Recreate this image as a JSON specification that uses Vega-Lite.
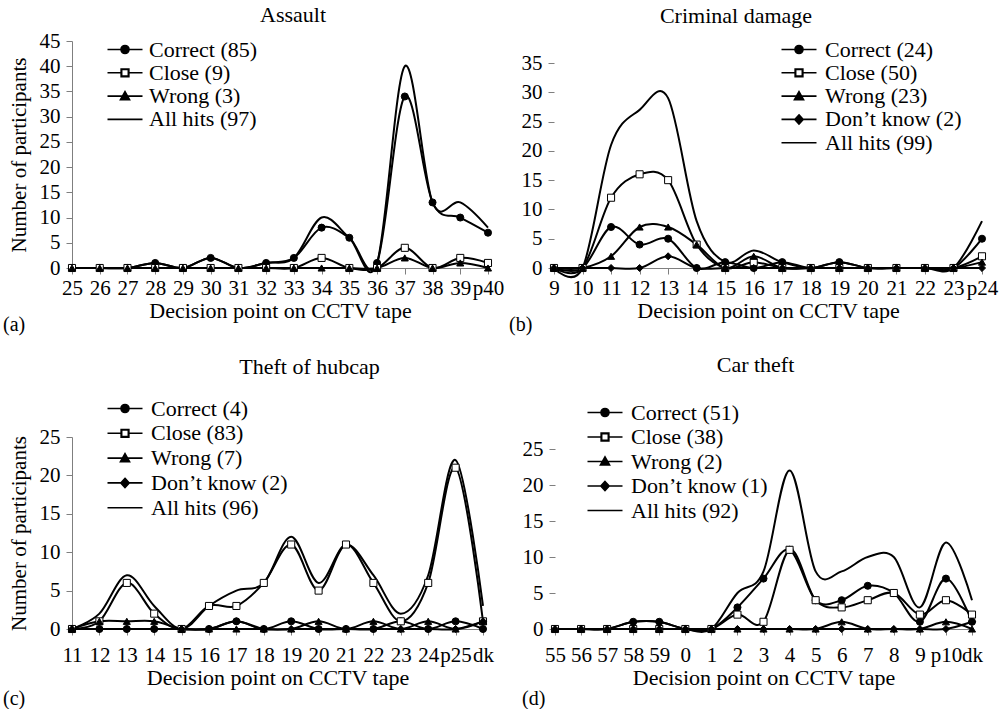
{
"$schema": "https://vega.github.io/schema/vega-lite/v6.json",
"padding": {"left": 3, "top": 4, "right": 0, "bottom": 0},
"background": "white",
"datasets": {
"assault": [
{"point":"25","series":"Correct (85)","count":0},{"point":"26","series":"Correct (85)","count":0},{"point":"27","series":"Correct (85)","count":0},{"point":"28","series":"Correct (85)","count":1},{"point":"29","series":"Correct (85)","count":0},{"point":"30","series":"Correct (85)","count":2},{"point":"31","series":"Correct (85)","count":0},{"point":"32","series":"Correct (85)","count":1},{"point":"33","series":"Correct (85)","count":2},{"point":"34","series":"Correct (85)","count":8},{"point":"35","series":"Correct (85)","count":6},{"point":"36","series":"Correct (85)","count":1},{"point":"37","series":"Correct (85)","count":34},{"point":"38","series":"Correct (85)","count":13},{"point":"39","series":"Correct (85)","count":10},{"point":"p40","series":"Correct (85)","count":7},
{"point":"25","series":"Close (9)","count":0},{"point":"26","series":"Close (9)","count":0},{"point":"27","series":"Close (9)","count":0},{"point":"28","series":"Close (9)","count":0},{"point":"29","series":"Close (9)","count":0},{"point":"30","series":"Close (9)","count":0},{"point":"31","series":"Close (9)","count":0},{"point":"32","series":"Close (9)","count":0},{"point":"33","series":"Close (9)","count":0},{"point":"34","series":"Close (9)","count":2},{"point":"35","series":"Close (9)","count":0},{"point":"36","series":"Close (9)","count":0},{"point":"37","series":"Close (9)","count":4},{"point":"38","series":"Close (9)","count":0},{"point":"39","series":"Close (9)","count":2},{"point":"p40","series":"Close (9)","count":1},
{"point":"25","series":"Wrong (3)","count":0},{"point":"26","series":"Wrong (3)","count":0},{"point":"27","series":"Wrong (3)","count":0},{"point":"28","series":"Wrong (3)","count":0},{"point":"29","series":"Wrong (3)","count":0},{"point":"30","series":"Wrong (3)","count":0},{"point":"31","series":"Wrong (3)","count":0},{"point":"32","series":"Wrong (3)","count":0},{"point":"33","series":"Wrong (3)","count":0},{"point":"34","series":"Wrong (3)","count":0},{"point":"35","series":"Wrong (3)","count":0},{"point":"36","series":"Wrong (3)","count":0},{"point":"37","series":"Wrong (3)","count":2},{"point":"38","series":"Wrong (3)","count":0},{"point":"39","series":"Wrong (3)","count":1},{"point":"p40","series":"Wrong (3)","count":0},
{"point":"25","series":"All hits (97)","count":0},{"point":"26","series":"All hits (97)","count":0},{"point":"27","series":"All hits (97)","count":0},{"point":"28","series":"All hits (97)","count":1},{"point":"29","series":"All hits (97)","count":0},{"point":"30","series":"All hits (97)","count":2},{"point":"31","series":"All hits (97)","count":0},{"point":"32","series":"All hits (97)","count":1},{"point":"33","series":"All hits (97)","count":2},{"point":"34","series":"All hits (97)","count":10},{"point":"35","series":"All hits (97)","count":6},{"point":"36","series":"All hits (97)","count":1},{"point":"37","series":"All hits (97)","count":40},{"point":"38","series":"All hits (97)","count":13},{"point":"39","series":"All hits (97)","count":13},{"point":"p40","series":"All hits (97)","count":8}
],
"damage": [
{"point":"9","series":"Correct (24)","count":0},{"point":"10","series":"Correct (24)","count":0},{"point":"11","series":"Correct (24)","count":7},{"point":"12","series":"Correct (24)","count":4},{"point":"13","series":"Correct (24)","count":5},{"point":"14","series":"Correct (24)","count":0},{"point":"15","series":"Correct (24)","count":1},{"point":"16","series":"Correct (24)","count":0},{"point":"17","series":"Correct (24)","count":1},{"point":"18","series":"Correct (24)","count":0},{"point":"19","series":"Correct (24)","count":1},{"point":"20","series":"Correct (24)","count":0},{"point":"21","series":"Correct (24)","count":0},{"point":"22","series":"Correct (24)","count":0},{"point":"23","series":"Correct (24)","count":0},{"point":"p24","series":"Correct (24)","count":5},
{"point":"9","series":"Close (50)","count":0},{"point":"10","series":"Close (50)","count":0},{"point":"11","series":"Close (50)","count":12},{"point":"12","series":"Close (50)","count":16},{"point":"13","series":"Close (50)","count":15},{"point":"14","series":"Close (50)","count":4},{"point":"15","series":"Close (50)","count":0},{"point":"16","series":"Close (50)","count":1},{"point":"17","series":"Close (50)","count":0},{"point":"18","series":"Close (50)","count":0},{"point":"19","series":"Close (50)","count":0},{"point":"20","series":"Close (50)","count":0},{"point":"21","series":"Close (50)","count":0},{"point":"22","series":"Close (50)","count":0},{"point":"23","series":"Close (50)","count":0},{"point":"p24","series":"Close (50)","count":2},
{"point":"9","series":"Wrong (23)","count":0},{"point":"10","series":"Wrong (23)","count":0},{"point":"11","series":"Wrong (23)","count":2},{"point":"12","series":"Wrong (23)","count":7},{"point":"13","series":"Wrong (23)","count":7},{"point":"14","series":"Wrong (23)","count":4},{"point":"15","series":"Wrong (23)","count":0},{"point":"16","series":"Wrong (23)","count":2},{"point":"17","series":"Wrong (23)","count":0},{"point":"18","series":"Wrong (23)","count":0},{"point":"19","series":"Wrong (23)","count":0},{"point":"20","series":"Wrong (23)","count":0},{"point":"21","series":"Wrong (23)","count":0},{"point":"22","series":"Wrong (23)","count":0},{"point":"23","series":"Wrong (23)","count":0},{"point":"p24","series":"Wrong (23)","count":1},
{"point":"9","series":"Don’t know (2)","count":0},{"point":"10","series":"Don’t know (2)","count":0},{"point":"11","series":"Don’t know (2)","count":0},{"point":"12","series":"Don’t know (2)","count":0},{"point":"13","series":"Don’t know (2)","count":2},{"point":"14","series":"Don’t know (2)","count":0},{"point":"15","series":"Don’t know (2)","count":0},{"point":"16","series":"Don’t know (2)","count":0},{"point":"17","series":"Don’t know (2)","count":0},{"point":"18","series":"Don’t know (2)","count":0},{"point":"19","series":"Don’t know (2)","count":0},{"point":"20","series":"Don’t know (2)","count":0},{"point":"21","series":"Don’t know (2)","count":0},{"point":"22","series":"Don’t know (2)","count":0},{"point":"23","series":"Don’t know (2)","count":0},{"point":"p24","series":"Don’t know (2)","count":0},
{"point":"9","series":"All hits (99)","count":0},{"point":"10","series":"All hits (99)","count":0},{"point":"11","series":"All hits (99)","count":21},{"point":"12","series":"All hits (99)","count":27},{"point":"13","series":"All hits (99)","count":29},{"point":"14","series":"All hits (99)","count":8},{"point":"15","series":"All hits (99)","count":1},{"point":"16","series":"All hits (99)","count":3},{"point":"17","series":"All hits (99)","count":1},{"point":"18","series":"All hits (99)","count":0},{"point":"19","series":"All hits (99)","count":1},{"point":"20","series":"All hits (99)","count":0},{"point":"21","series":"All hits (99)","count":0},{"point":"22","series":"All hits (99)","count":0},{"point":"23","series":"All hits (99)","count":0},{"point":"p24","series":"All hits (99)","count":8}
],
"hubcap": [
{"point":"11","series":"Correct (4)","count":0},{"point":"12","series":"Correct (4)","count":0},{"point":"13","series":"Correct (4)","count":0},{"point":"14","series":"Correct (4)","count":0},{"point":"15","series":"Correct (4)","count":0},{"point":"16","series":"Correct (4)","count":0},{"point":"17","series":"Correct (4)","count":1},{"point":"18","series":"Correct (4)","count":0},{"point":"19","series":"Correct (4)","count":1},{"point":"20","series":"Correct (4)","count":0},{"point":"21","series":"Correct (4)","count":0},{"point":"22","series":"Correct (4)","count":0},{"point":"23","series":"Correct (4)","count":1},{"point":"24","series":"Correct (4)","count":0},{"point":"p25","series":"Correct (4)","count":1},{"point":"dk","series":"Correct (4)","count":0},
{"point":"11","series":"Close (83)","count":0},{"point":"12","series":"Close (83)","count":1},{"point":"13","series":"Close (83)","count":6},{"point":"14","series":"Close (83)","count":2},{"point":"15","series":"Close (83)","count":0},{"point":"16","series":"Close (83)","count":3},{"point":"17","series":"Close (83)","count":3},{"point":"18","series":"Close (83)","count":6},{"point":"19","series":"Close (83)","count":11},{"point":"20","series":"Close (83)","count":5},{"point":"21","series":"Close (83)","count":11},{"point":"22","series":"Close (83)","count":6},{"point":"23","series":"Close (83)","count":1},{"point":"24","series":"Close (83)","count":6},{"point":"p25","series":"Close (83)","count":21},{"point":"dk","series":"Close (83)","count":1},
{"point":"11","series":"Wrong (7)","count":0},{"point":"12","series":"Wrong (7)","count":1},{"point":"13","series":"Wrong (7)","count":1},{"point":"14","series":"Wrong (7)","count":1},{"point":"15","series":"Wrong (7)","count":0},{"point":"16","series":"Wrong (7)","count":0},{"point":"17","series":"Wrong (7)","count":0},{"point":"18","series":"Wrong (7)","count":0},{"point":"19","series":"Wrong (7)","count":0},{"point":"20","series":"Wrong (7)","count":1},{"point":"21","series":"Wrong (7)","count":0},{"point":"22","series":"Wrong (7)","count":1},{"point":"23","series":"Wrong (7)","count":0},{"point":"24","series":"Wrong (7)","count":1},{"point":"p25","series":"Wrong (7)","count":0},{"point":"dk","series":"Wrong (7)","count":1},
{"point":"11","series":"Don’t know (2)","count":0},{"point":"12","series":"Don’t know (2)","count":0},{"point":"13","series":"Don’t know (2)","count":0},{"point":"14","series":"Don’t know (2)","count":0},{"point":"15","series":"Don’t know (2)","count":0},{"point":"16","series":"Don’t know (2)","count":0},{"point":"17","series":"Don’t know (2)","count":1},{"point":"18","series":"Don’t know (2)","count":0},{"point":"19","series":"Don’t know (2)","count":0},{"point":"20","series":"Don’t know (2)","count":0},{"point":"21","series":"Don’t know (2)","count":0},{"point":"22","series":"Don’t know (2)","count":0},{"point":"23","series":"Don’t know (2)","count":0},{"point":"24","series":"Don’t know (2)","count":0},{"point":"p25","series":"Don’t know (2)","count":0},{"point":"dk","series":"Don’t know (2)","count":1},
{"point":"11","series":"All hits (96)","count":0},{"point":"12","series":"All hits (96)","count":2},{"point":"13","series":"All hits (96)","count":7},{"point":"14","series":"All hits (96)","count":3},{"point":"15","series":"All hits (96)","count":0},{"point":"16","series":"All hits (96)","count":3},{"point":"17","series":"All hits (96)","count":5},{"point":"18","series":"All hits (96)","count":6},{"point":"19","series":"All hits (96)","count":12},{"point":"20","series":"All hits (96)","count":6},{"point":"21","series":"All hits (96)","count":11},{"point":"22","series":"All hits (96)","count":7},{"point":"23","series":"All hits (96)","count":2},{"point":"24","series":"All hits (96)","count":7},{"point":"p25","series":"All hits (96)","count":22},{"point":"dk","series":"All hits (96)","count":3}
],
"car": [
{"point":"55","series":"Correct (51)","count":0},{"point":"56","series":"Correct (51)","count":0},{"point":"57","series":"Correct (51)","count":0},{"point":"58","series":"Correct (51)","count":1},{"point":"59","series":"Correct (51)","count":1},{"point":"0","series":"Correct (51)","count":0},{"point":"1","series":"Correct (51)","count":0},{"point":"2","series":"Correct (51)","count":3},{"point":"3","series":"Correct (51)","count":7},{"point":"4","series":"Correct (51)","count":11},{"point":"5","series":"Correct (51)","count":4},{"point":"6","series":"Correct (51)","count":4},{"point":"7","series":"Correct (51)","count":6},{"point":"8","series":"Correct (51)","count":5},{"point":"9","series":"Correct (51)","count":1},{"point":"p10","series":"Correct (51)","count":7},{"point":"dk","series":"Correct (51)","count":1},
{"point":"55","series":"Close (38)","count":0},{"point":"56","series":"Close (38)","count":0},{"point":"57","series":"Close (38)","count":0},{"point":"58","series":"Close (38)","count":0},{"point":"59","series":"Close (38)","count":0},{"point":"0","series":"Close (38)","count":0},{"point":"1","series":"Close (38)","count":0},{"point":"2","series":"Close (38)","count":2},{"point":"3","series":"Close (38)","count":1},{"point":"4","series":"Close (38)","count":11},{"point":"5","series":"Close (38)","count":4},{"point":"6","series":"Close (38)","count":3},{"point":"7","series":"Close (38)","count":4},{"point":"8","series":"Close (38)","count":5},{"point":"9","series":"Close (38)","count":2},{"point":"p10","series":"Close (38)","count":4},{"point":"dk","series":"Close (38)","count":2},
{"point":"55","series":"Wrong (2)","count":0},{"point":"56","series":"Wrong (2)","count":0},{"point":"57","series":"Wrong (2)","count":0},{"point":"58","series":"Wrong (2)","count":0},{"point":"59","series":"Wrong (2)","count":0},{"point":"0","series":"Wrong (2)","count":0},{"point":"1","series":"Wrong (2)","count":0},{"point":"2","series":"Wrong (2)","count":0},{"point":"3","series":"Wrong (2)","count":0},{"point":"4","series":"Wrong (2)","count":0},{"point":"5","series":"Wrong (2)","count":0},{"point":"6","series":"Wrong (2)","count":1},{"point":"7","series":"Wrong (2)","count":0},{"point":"8","series":"Wrong (2)","count":0},{"point":"9","series":"Wrong (2)","count":0},{"point":"p10","series":"Wrong (2)","count":1},{"point":"dk","series":"Wrong (2)","count":0},
{"point":"55","series":"Don’t know (1)","count":0},{"point":"56","series":"Don’t know (1)","count":0},{"point":"57","series":"Don’t know (1)","count":0},{"point":"58","series":"Don’t know (1)","count":0},{"point":"59","series":"Don’t know (1)","count":0},{"point":"0","series":"Don’t know (1)","count":0},{"point":"1","series":"Don’t know (1)","count":0},{"point":"2","series":"Don’t know (1)","count":0},{"point":"3","series":"Don’t know (1)","count":0},{"point":"4","series":"Don’t know (1)","count":0},{"point":"5","series":"Don’t know (1)","count":0},{"point":"6","series":"Don’t know (1)","count":0},{"point":"7","series":"Don’t know (1)","count":0},{"point":"8","series":"Don’t know (1)","count":0},{"point":"9","series":"Don’t know (1)","count":0},{"point":"p10","series":"Don’t know (1)","count":0},{"point":"dk","series":"Don’t know (1)","count":1},
{"point":"55","series":"All hits (92)","count":0},{"point":"56","series":"All hits (92)","count":0},{"point":"57","series":"All hits (92)","count":0},{"point":"58","series":"All hits (92)","count":1},{"point":"59","series":"All hits (92)","count":1},{"point":"0","series":"All hits (92)","count":0},{"point":"1","series":"All hits (92)","count":0},{"point":"2","series":"All hits (92)","count":5},{"point":"3","series":"All hits (92)","count":8},{"point":"4","series":"All hits (92)","count":22},{"point":"5","series":"All hits (92)","count":8},{"point":"6","series":"All hits (92)","count":8},{"point":"7","series":"All hits (92)","count":10},{"point":"8","series":"All hits (92)","count":10},{"point":"9","series":"All hits (92)","count":3},{"point":"p10","series":"All hits (92)","count":12},{"point":"dk","series":"All hits (92)","count":4}
]
},
"spacing": 19,
"vconcat": [
{"spacing": 3, "hconcat": [
 {"title": {"text": "(a)", "orient": "bottom", "anchor": "start", "offset": -6.5, "dx": -5, "fontSize": 20},
  "vconcat": [{
  "title": {"text": "Assault", "offset": 2.7, "dx": 13},
  "width": 416, "height": 227,
  "data": {"name": "assault"},
  "encoding": {
   "x": {"field": "point", "type": "ordinal", "sort": null, "scale": {"type": "point", "padding": 0}, "axis": {"title": "Decision point on CCTV tape", "labelPadding": 3, "titlePadding": 2.5}},
   "y": {"field": "count", "type": "quantitative", "scale": {"domain": [0, 45], "nice": false}, "axis": {"title": "Number of participants", "values": [0,5,10,15,20,25,30,35,40,45], "titlePadding": 10}}
  },
  "layer": [
   {"mark": {"type": "line", "interpolate": "cardinal", "tension": 0, "color": "black", "strokeWidth": 2}, "encoding": {"detail": {"field": "series"}}},
   {"transform": [{"filter": "indexof(datum.series,'All hits')<0"}],
    "mark": {"type": "point", "filled": true, "size": 50, "stroke": "black", "strokeWidth": 1, "opacity": 1},
    "encoding": {
     "shape": {"field": "series", "scale": {"domain": ["Correct (85)","Close (9)","Wrong (3)"], "range": ["circle","square","triangle-up"]}, "legend": null},
     "fill": {"field": "series", "scale": {"domain": ["Correct (85)","Close (9)","Wrong (3)"], "range": ["black","white","black"]}, "legend": null}
    }},
   {"mark": {"type": "point", "filled": true, "color": "black", "stroke": "black", "strokeWidth": 1.6, "opacity": 0, "size": 49},
    "encoding": {
     "shape": {"field": "series", "scale": {"domain": ["Correct (85)","Close (9)","Wrong (3)","All hits (97)"], "range": ["M-5,0H5M-1.15,0A1.15,1.15,0,1,0,1.15,0A1.15,1.15,0,1,0,-1.15,0Z","M-5,0H-1.1M1.1,0H5M-1.1,-1.1H1.1V1.1H-1.1ZM-0.95,-0.95V0.95H0.95V-0.95Z","M-5,0H5M0,-1.3L1.3,1H-1.3Z","M-5,0H5"]},
      "legend": {"title": null, "orient": "none", "legendX": 35, "legendY": -2.5, "rowPadding": 1.3, "symbolOffset": 7, "labelOffset": 13, "symbolOpacity": 1, "symbolStrokeWidth": 1.6,
       "encode": {"symbols": {"opacity": {"value": 1}, "stroke": {"value": "black"}, "fill": {"value": "black"}}}}}
    }}
  ],
  "resolve": {"scale": {"shape": "independent", "fill": "independent"}}
 }]},
 {"title": {"text": "(b)", "orient": "bottom", "anchor": "start", "offset": -6.5, "dx": -12, "fontSize": 20},
  "vconcat": [{
  "title": {"text": "Criminal damage", "offset": 10.7, "dx": -32},
  "width": 428, "height": 227,
  "data": {"name": "damage"},
  "encoding": {
   "x": {"field": "point", "type": "ordinal", "sort": null, "scale": {"type": "point", "padding": 0}, "axis": {"title": "Decision point on CCTV tape", "labelPadding": 3, "titlePadding": 2.5}},
   "y": {"field": "count", "type": "quantitative", "scale": {"domain": [0, 38.76], "nice": false}, "axis": {"title": null, "domain": false, "values": [0,5,10,15,20,25,30,35]}}
  },
  "layer": [
   {"data": {"values": [{}]}, "mark": {"type": "rule", "color": "#7f7f7f", "strokeWidth": 1}, "encoding": {"x": {"datum": "9", "type": "ordinal"}, "y": {"datum": 0, "type": "quantitative"}, "y2": {"datum": 35}}},
   {"mark": {"type": "line", "interpolate": "cardinal", "tension": 0, "color": "black", "strokeWidth": 2}, "encoding": {"detail": {"field": "series"}}},
   {"transform": [{"filter": "indexof(datum.series,'All hits')<0"}],
    "mark": {"type": "point", "filled": true, "size": 50, "stroke": "black", "strokeWidth": 1, "opacity": 1},
    "encoding": {
     "shape": {"field": "series", "scale": {"domain": ["Correct (24)","Close (50)","Wrong (23)","Don’t know (2)"], "range": ["circle","square","triangle-up","diamond"]}, "legend": null},
     "fill": {"field": "series", "scale": {"domain": ["Correct (24)","Close (50)","Wrong (23)","Don’t know (2)"], "range": ["black","white","black","black"]}, "legend": null}
    }},
   {"mark": {"type": "point", "filled": true, "color": "black", "stroke": "black", "strokeWidth": 1.6, "opacity": 0, "size": 49},
    "encoding": {
     "shape": {"field": "series", "scale": {"domain": ["Correct (24)","Close (50)","Wrong (23)","Don’t know (2)","All hits (99)"], "range": ["M-5,0H5M-1.15,0A1.15,1.15,0,1,0,1.15,0A1.15,1.15,0,1,0,-1.15,0Z","M-5,0H-1.1M1.1,0H5M-1.1,-1.1H1.1V1.1H-1.1ZM-0.95,-0.95V0.95H0.95V-0.95Z","M-5,0H5M0,-1.3L1.3,1H-1.3Z","M-5,0H5M0,-1.3L1.2,0L0,1.3L-1.2,0Z","M-5,0H5"]},
      "legend": {"title": null, "orient": "none", "legendX": 227, "legendY": -2.5, "rowPadding": 1.3, "symbolOffset": 7, "labelOffset": 15, "symbolOpacity": 1, "symbolStrokeWidth": 1.6,
       "encode": {"symbols": {"opacity": {"value": 1}, "stroke": {"value": "black"}, "fill": {"value": "black"}}}}}
    }}
  ],
  "resolve": {"scale": {"shape": "independent", "fill": "independent"}}
 }]}
]},
{"spacing": 21, "hconcat": [
 {"title": {"text": "(c)", "orient": "bottom", "anchor": "start", "offset": 0, "dx": -5, "fontSize": 20},
  "vconcat": [{
  "title": {"text": "Theft of hubcap", "offset": 18.2, "dx": 32},
  "width": 411, "height": 192,
  "data": {"name": "hubcap"},
  "encoding": {
   "x": {"field": "point", "type": "ordinal", "sort": null, "scale": {"type": "point", "padding": 0}, "axis": {"title": "Decision point on CCTV tape", "labelPadding": 9, "titlePadding": 2.5}},
   "y": {"field": "count", "type": "quantitative", "scale": {"domain": [0, 25], "nice": false}, "axis": {"title": "Number of participants", "values": [0,5,10,15,20,25], "titlePadding": 10}}
  },
  "layer": [
   {"mark": {"type": "line", "interpolate": "cardinal", "tension": 0, "color": "black", "strokeWidth": 2}, "encoding": {"detail": {"field": "series"}}},
   {"transform": [{"filter": "indexof(datum.series,'All hits')<0"}],
    "mark": {"type": "point", "filled": true, "size": 50, "stroke": "black", "strokeWidth": 1, "opacity": 1},
    "encoding": {
     "shape": {"field": "series", "scale": {"domain": ["Correct (4)","Close (83)","Wrong (7)","Don’t know (2)"], "range": ["circle","square","triangle-up","diamond"]}, "legend": null},
     "fill": {"field": "series", "scale": {"domain": ["Correct (4)","Close (83)","Wrong (7)","Don’t know (2)"], "range": ["black","white","black","black"]}, "legend": null}
    }},
   {"mark": {"type": "point", "filled": true, "color": "black", "stroke": "black", "strokeWidth": 1.6, "opacity": 0, "size": 49},
    "encoding": {
     "shape": {"field": "series", "scale": {"domain": ["Correct (4)","Close (83)","Wrong (7)","Don’t know (2)","All hits (96)"], "range": ["M-5,0H5M-1.15,0A1.15,1.15,0,1,0,1.15,0A1.15,1.15,0,1,0,-1.15,0Z","M-5,0H-1.1M1.1,0H5M-1.1,-1.1H1.1V1.1H-1.1ZM-0.95,-0.95V0.95H0.95V-0.95Z","M-5,0H5M0,-1.3L1.3,1H-1.3Z","M-5,0H5M0,-1.3L1.2,0L0,1.3L-1.2,0Z","M-5,0H5"]},
      "legend": {"title": null, "orient": "none", "legendX": 35, "legendY": -39.5, "rowPadding": 2.8, "symbolOffset": 7, "labelOffset": 15, "symbolOpacity": 1, "symbolStrokeWidth": 1.6,
       "encode": {"symbols": {"opacity": {"value": 1}, "stroke": {"value": "black"}, "fill": {"value": "black"}}}}}
    }}
  ],
  "resolve": {"scale": {"shape": "independent", "fill": "independent"}}
 }]},
 {"title": {"text": "(d)", "orient": "bottom", "anchor": "start", "offset": 0, "fontSize": 20},
  "vconcat": [{
  "title": {"text": "Car theft", "offset": 24.2, "dx": -8},
  "width": 417, "height": 192,
  "data": {"name": "car"},
  "encoding": {
   "x": {"field": "point", "type": "ordinal", "sort": null, "scale": {"type": "point", "padding": 0}, "axis": {"title": "Decision point on CCTV tape", "labelPadding": 9, "titlePadding": 2.5}},
   "y": {"field": "count", "type": "quantitative", "scale": {"domain": [0, 26.667], "nice": false}, "axis": {"title": null, "domain": false, "values": [0,5,10,15,20,25]}}
  },
  "layer": [
   {"data": {"values": [{}]}, "mark": {"type": "rule", "color": "#7f7f7f", "strokeWidth": 1}, "encoding": {"x": {"datum": "55", "type": "ordinal"}, "y": {"datum": 0, "type": "quantitative"}, "y2": {"datum": 25}}},
   {"mark": {"type": "line", "interpolate": "cardinal", "tension": 0, "color": "black", "strokeWidth": 2}, "encoding": {"detail": {"field": "series"}}},
   {"transform": [{"filter": "indexof(datum.series,'All hits')<0"}],
    "mark": {"type": "point", "filled": true, "size": 50, "stroke": "black", "strokeWidth": 1, "opacity": 1},
    "encoding": {
     "shape": {"field": "series", "scale": {"domain": ["Correct (51)","Close (38)","Wrong (2)","Don’t know (1)"], "range": ["circle","square","triangle-up","diamond"]}, "legend": null},
     "fill": {"field": "series", "scale": {"domain": ["Correct (51)","Close (38)","Wrong (2)","Don’t know (1)"], "range": ["black","white","black","black"]}, "legend": null}
    }},
   {"mark": {"type": "point", "filled": true, "color": "black", "stroke": "black", "strokeWidth": 1.6, "opacity": 0, "size": 49},
    "encoding": {
     "shape": {"field": "series", "scale": {"domain": ["Correct (51)","Close (38)","Wrong (2)","Don’t know (1)","All hits (92)"], "range": ["M-5,0H5M-1.15,0A1.15,1.15,0,1,0,1.15,0A1.15,1.15,0,1,0,-1.15,0Z","M-5,0H-1.1M1.1,0H5M-1.1,-1.1H1.1V1.1H-1.1ZM-0.95,-0.95V0.95H0.95V-0.95Z","M-5,0H5M0,-1.3L1.3,1H-1.3Z","M-5,0H5M0,-1.3L1.2,0L0,1.3L-1.2,0Z","M-5,0H5"]},
      "legend": {"title": null, "orient": "none", "legendX": 32, "legendY": -35.5, "rowPadding": 2.5, "symbolOffset": 7, "labelOffset": 15, "symbolOpacity": 1, "symbolStrokeWidth": 1.6,
       "encode": {"symbols": {"opacity": {"value": 1}, "stroke": {"value": "black"}, "fill": {"value": "black"}}}}}
    }}
  ],
  "resolve": {"scale": {"shape": "independent", "fill": "independent"}}
 }]}
]}
],
"config": {
 "view": {"stroke": null},
 "font": "Liberation Serif",
 "title": {"font": "Liberation Serif", "fontSize": 22, "fontWeight": "normal", "color": "black"},
 "axis": {"labelFont": "Liberation Serif", "titleFont": "Liberation Serif", "labelFontSize": 21, "titleFontSize": 22, "titleFontWeight": "normal", "labelColor": "black", "titleColor": "black", "domainColor": "#7f7f7f", "tickColor": "#7f7f7f", "grid": false, "tickSize": 6, "labelPadding": 6, "labelOverlap": false},
 "axisY": {"titleFontSize": 21},
 "axisX": {"labelAngle": 0},
 "legend": {"labelFont": "Liberation Serif", "labelFontSize": 22, "labelColor": "black", "padding": 0, "symbolSize": 49, "labelLimit": 0}
}
}
